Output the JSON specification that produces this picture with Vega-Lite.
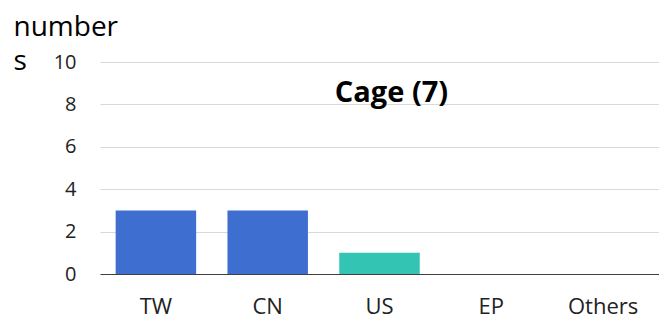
{
  "$schema": "https://vega.github.io/schema/vega-lite/v6.json",
  "autosize": "none",
  "width": 559,
  "height": 212,
  "padding": {"left": 100, "top": 62, "right": 0, "bottom": 44},
  "background": "white",
  "data": {"values": [
    {"country": "TW", "count": 3, "group": "a"},
    {"country": "CN", "count": 3, "group": "a"},
    {"country": "US", "count": 1, "group": "b"},
    {"country": "EP", "count": 0, "group": "a"},
    {"country": "Others", "count": 0, "group": "a"}
  ]},
  "title": {
    "text": "Cage (7)",
    "font": "Open Sans",
    "fontSize": 29,
    "fontWeight": "bold",
    "color": "#000000",
    "anchor": "middle",
    "baseline": "alphabetic",
    "offset": -80,
    "dy": 38,
    "dx": 12
  },
  "mark": {"type": "bar"},
  "encoding": {
    "x": {
      "field": "country", "type": "nominal", "sort": null,
      "scale": {"paddingInner": 0.28, "paddingOuter": 0.14},
      "axis": {
        "title": null, "labelAngle": 0, "labelFont": "Open Sans", "labelFontSize": 22,
        "labelColor": "#222222", "labelPadding": 22, "ticks": false,
        "domainColor": "#404040", "domainWidth": 1.2
      }
    },
    "y": {
      "field": "count", "type": "quantitative",
      "scale": {"domain": [0, 10], "nice": false},
      "axis": {
        "values": [0, 2, 4, 6, 8, 10], "labelOverlap": false,
        "domain": false, "ticks": false, "labelPadding": 24,
        "labelFont": "Open Sans", "labelFontSize": 20, "labelColor": "#222222",
        "gridColor": "#d9d9d9", "gridWidth": 1,
        "title": ["number", "s"], "titleAngle": 0, "titleAlign": "left",
        "titleBaseline": "alphabetic", "titleX": -87, "titleY": -27,
        "titleFont": "Open Sans", "titleFontSize": 28, "titleFontWeight": "normal",
        "titleColor": "#000000", "titleLineHeight": 34
      }
    },
    "color": {
      "field": "group", "type": "nominal",
      "scale": {"domain": ["a", "b"], "range": ["#3E6FD0", "#33C4B4"]},
      "legend": null
    }
  },
  "config": {"view": {"stroke": null}}
}
